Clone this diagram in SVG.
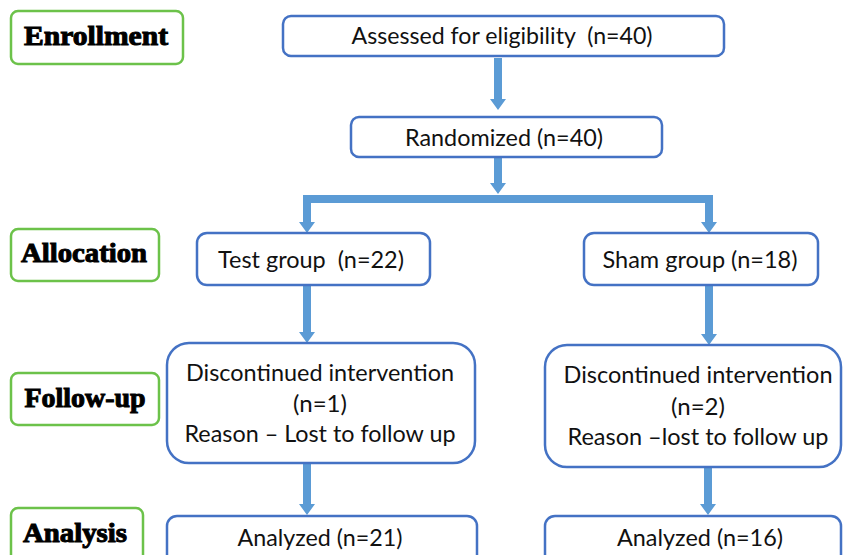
<svg xmlns="http://www.w3.org/2000/svg" width="843" height="555" viewBox="0 0 843 555">
<style>
.bx{fill:#fff;stroke:#4472C4;stroke-width:2.5}
.gb{fill:#fff;stroke:#6CC24A;stroke-width:2.5}
.t{font-family:Lato,"Open Sans",sans-serif;font-size:22.5px;fill:#111;text-anchor:middle}
.lb{font-family:"Liberation Serif","Times New Roman",serif;font-weight:bold;font-size:27px;fill:#000;stroke:#000;stroke-width:1;text-anchor:middle}
.arr{fill:#5B9BD5}
</style>
<rect width="843" height="555" fill="#fff"/>
<g id="connectors">
<path class="arr" d="M494 58H502V99H506L498 110L490 99H494Z"/>
<path class="arr" d="M494 158H502V183H506L498 194L490 183H494Z"/>
<rect class="arr" x="303" y="195" width="410" height="8"/>
<path class="arr" d="M303 203H311V222H315L307 233L299 222H303Z"/>
<path class="arr" d="M705 203H713V222H717L709 233L701 222H705Z"/>
<path class="arr" d="M303 286H311V332H315L307 343L299 332H303Z"/>
<path class="arr" d="M705 286H713V334H717L709 345L701 334H705Z"/>
<path class="arr" d="M303 464H311V504H315L307 515L299 504H303Z"/>
<path class="arr" d="M704 468H712V504H716L708 515L700 504H704Z"/>
</g>
<g id="lbl-enrollment"><rect class="gb" x="11" y="11" width="172" height="53" rx="7"/><text class="lb" x="96" y="45" textLength="144" lengthAdjust="spacingAndGlyphs">Enrollment</text></g>
<g id="lbl-allocation"><rect class="gb" x="11" y="229" width="148" height="52" rx="7"/><text class="lb" x="84" y="262" textLength="126" lengthAdjust="spacingAndGlyphs">Allocation</text></g>
<g id="lbl-followup"><rect class="gb" x="11" y="373" width="148" height="52" rx="7"/><text class="lb" x="85" y="407" textLength="121" lengthAdjust="spacingAndGlyphs">Follow-up</text></g>
<g id="lbl-analysis"><rect class="gb" x="11" y="508" width="132" height="60" rx="7"/><text class="lb" x="75" y="542" textLength="104" lengthAdjust="spacingAndGlyphs">Analysis</text></g>
<g id="assessed"><rect class="bx" x="283" y="16" width="441" height="40" rx="8"/><text class="t" x="502" y="44" textLength="301" lengthAdjust="spacingAndGlyphs" xml:space="preserve">Assessed for eligibility  (n=40)</text></g>
<g id="randomized"><rect class="bx" x="351" y="117" width="311" height="40" rx="8"/><text class="t" x="504" y="146" textLength="198" lengthAdjust="spacingAndGlyphs">Randomized (n=40)</text></g>
<g id="test"><rect class="bx" x="197" y="233" width="233" height="52" rx="10"/><text class="t" x="311" y="268" textLength="186" lengthAdjust="spacingAndGlyphs" xml:space="preserve">Test group  (n=22)</text></g>
<g id="sham"><rect class="bx" x="584" y="233" width="234" height="52" rx="10"/><text class="t" x="700" y="268" textLength="195" lengthAdjust="spacingAndGlyphs">Sham group (n=18)</text></g>
<g id="disc-test"><rect class="bx" x="167" y="343" width="308" height="120" rx="22"/>
<text class="t" x="320" y="381" textLength="268" lengthAdjust="spacingAndGlyphs">Discontinued intervention</text>
<text class="t" x="320" y="412" textLength="54" lengthAdjust="spacingAndGlyphs">(n=1)</text>
<text class="t" x="320" y="442" textLength="271" lengthAdjust="spacingAndGlyphs">Reason – Lost to follow up</text></g>
<g id="disc-sham"><rect class="bx" x="545" y="345" width="296" height="122" rx="22"/>
<text class="t" x="698" y="383" textLength="269" lengthAdjust="spacingAndGlyphs">Discontinued intervention</text>
<text class="t" x="698" y="415" textLength="54" lengthAdjust="spacingAndGlyphs">(n=2)</text>
<text class="t" x="698" y="445" textLength="261" lengthAdjust="spacingAndGlyphs">Reason –lost to follow up</text></g>
<g id="analyzed-test"><rect class="bx" x="167" y="516" width="310" height="60" rx="10"/><text class="t" x="320" y="546" textLength="165" lengthAdjust="spacingAndGlyphs">Analyzed (n=21)</text></g>
<g id="analyzed-sham"><rect class="bx" x="545" y="516" width="296" height="60" rx="10"/><text class="t" x="700" y="546" textLength="166" lengthAdjust="spacingAndGlyphs">Analyzed (n=16)</text></g>
</svg>
